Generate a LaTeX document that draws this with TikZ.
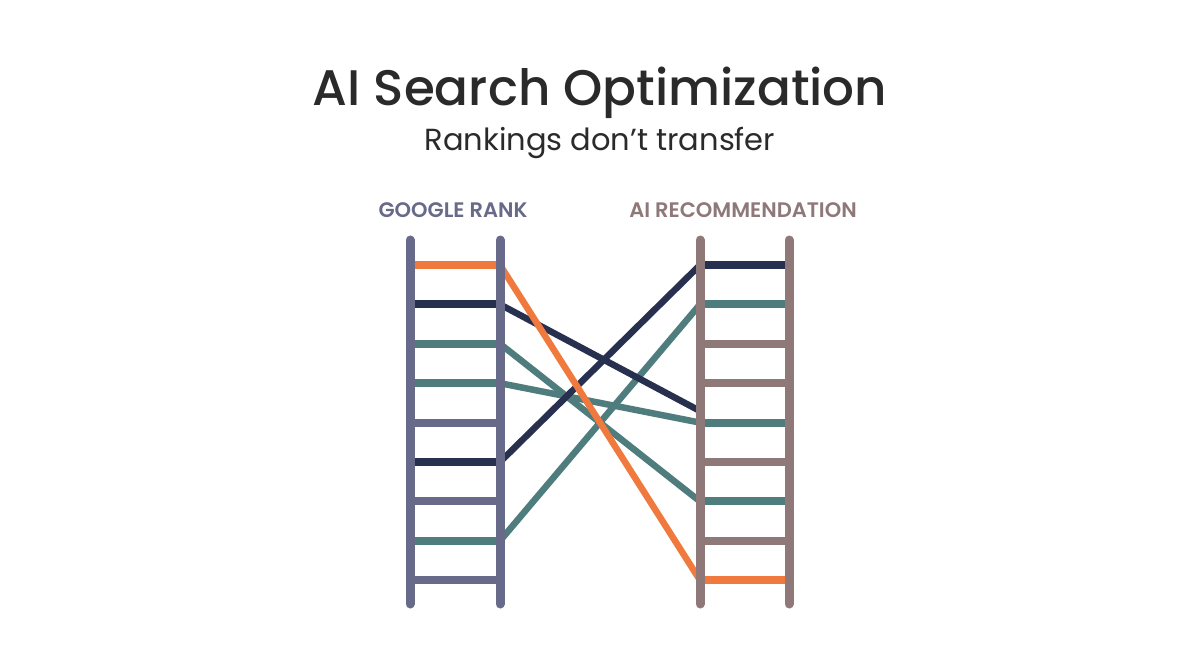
\documentclass[tikz,border=0pt]{standalone}
\usepackage{fontspec}
\setmainfont{Poppins}
\newfontfamily\titlefont{Poppins Medium}
\newfontfamily\labelfont{Poppins SemiBold}
\usetikzlibrary{calc}

\definecolor{ink}{HTML}{2A2A2A}
\definecolor{railgoogle}{HTML}{676A88}
\definecolor{railai}{HTML}{8F7878}
\definecolor{rankorange}{HTML}{F07A3E}
\definecolor{ranknavy}{HTML}{27304F}
\definecolor{rankteal}{HTML}{4F7D7D}

\tikzset{
  rail/.style={line width=9pt, line cap=round},
  rung/.style={line width=8pt},
  link/.style={line width=6.5pt},
  colhead/.style={font=\labelfont\fontsize{21}{24}\selectfont}
}

\begin{document}
\begin{tikzpicture}[x=1pt,y=-1pt]
  % canvas
  \fill[white] (0,0) rectangle (1200,670);
  \useasboundingbox (0,0) rectangle (1200,670);
  % titles
  \node (title) [text=ink, font=\titlefont\fontsize{50}{56}\selectfont] at (600,93)
        {AI Search Optimization};
  \node (subtitle) [text=ink, font=\fontsize{30.5}{34}\selectfont] at (600,143)
        {Rankings don’t transfer};
  \node (googlehead) [colhead, text=railgoogle] at (453,210) {GOOGLE RANK};
  \node (aihead) [colhead, text=railai] at (743,210) {AI RECOMMENDATION};
  % rung end points
  \foreach \i in {1,...,9} {
    \coordinate (gl\i) at (410,{265+(\i-1)*39.4});
    \coordinate (gr\i) at (500,{265+(\i-1)*39.4});
    \coordinate (al\i) at (700,{265+(\i-1)*39.4});
    \coordinate (ar\i) at (789,{265+(\i-1)*39.4});
  }
  \coordinate (navyend) at (700,411);
  % connectors
  \draw[link, rankteal]   (gr3) -- (al7);
  \draw[link, rankteal]   (gr4) -- (al5);
  \draw[link, rankteal]   (gr8) -- (al2);
  \draw[link, ranknavy]   (gr2) -- (navyend);
  \draw[link, ranknavy]   (gr6) -- (al1);
  \draw[link, rankorange] (gr1) -- (al9);
  % rungs of the google ladder
  \foreach \i/\c in {1/rankorange,2/ranknavy,3/rankteal,4/rankteal,5/railgoogle,
                     6/ranknavy,7/railgoogle,8/rankteal,9/railgoogle}
    \draw[rung, \c] (gl\i) -- (gr\i);
  % rungs of the ai ladder
  \foreach \i/\c in {1/ranknavy,2/rankteal,3/railai,4/railai,5/rankteal,
                     6/railai,7/rankteal,8/railai,9/rankorange}
    \draw[rung, \c] (al\i) -- (ar\i);
  % rails
  \draw[rail, railgoogle] (410,240) -- (410,604);
  \draw[rail, railgoogle] (500,240) -- (500,604);
  \draw[rail, railai]     (700,240) -- (700,604);
  \draw[rail, railai]     (789,240) -- (789,604);
\end{tikzpicture}
\end{document}
